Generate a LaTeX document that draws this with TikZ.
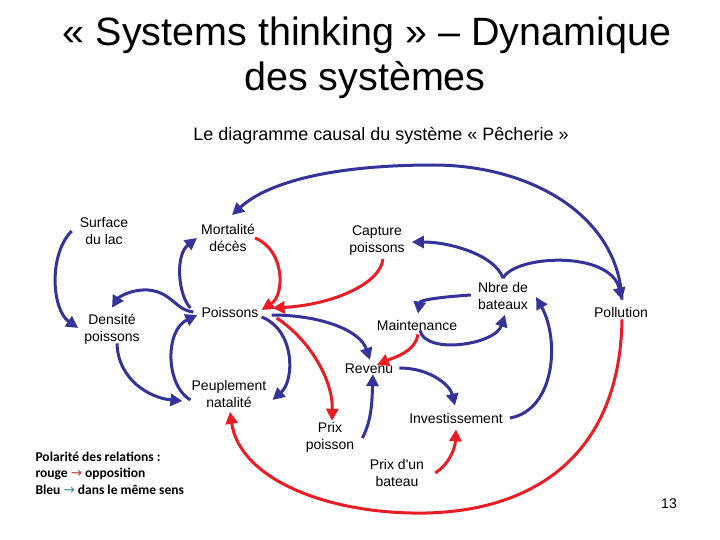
\documentclass[tikz,border=0pt]{standalone}
\usepackage{fontspec}
\setmainfont{Liberation Sans}
\newfontfamily\legendfont{Carlito}
\newfontfamily\arrowfont{DejaVu Sans}
\usepackage{xcolor}
\usetikzlibrary{arrows.meta, positioning, calc}

\definecolor{linkblue}{RGB}{51,51,153}
\definecolor{linkred}{RGB}{236,28,36}
\definecolor{legred}{RGB}{192,57,43}
\definecolor{legblue}{RGB}{49,133,156}

\tikzset{
  varnode/.style={align=center, inner sep=0pt, font=\fontsize{14}{17}\selectfont},
  plusarrow/.style={draw=linkblue, line width=3pt, -{Triangle[length=12pt,width=12pt]}},
  minusarrow/.style={draw=linkred, line width=3pt, -{Triangle[length=12pt,width=12pt]}}
}

\begin{document}
\begin{tikzpicture}[x=1pt, y=-1pt]
\useasboundingbox (0,0) rectangle (720,540);

% titre
\node[font=\fontsize{39.5}{45}\selectfont] (titre1) at (367,35) {« Systems thinking » – Dynamique};
\node[font=\fontsize{39.5}{45}\selectfont] (titre2) at (365,80) {des systèmes};
\node[font=\fontsize{18}{22}\selectfont] (soustitre) at (381,136) {Le diagramme causal du système « Pêcherie »};

% variables du systeme
\node[varnode] (surface) at (104,231) {Surface\\du lac};
\node[varnode] (mortalite) at (228,238) {Mortalité\\décès};
\node[varnode] (capture) at (377,241) {Capture\\poissons};
\node[varnode] (densite) at (112,329) {Densité\\poissons};
\node[varnode] (poissons) at (230,312) {Poissons};
\node[varnode] (maintenance) at (417,325) {Maintenance};
\node[varnode] (bateaux) at (503,296) {Nbre de\\bateaux};
\node[varnode] (pollution) at (621,312) {Pollution};
\node[varnode] (revenu) at (369,369) {Revenu};
\node[varnode] (peuplement) at (229,394) {Peuplement\\natalité};
\node[varnode] (prixpoisson) at (330,437) {Prix\\poisson};
\node[varnode] (invest) at (456,418) {Investissement};
\node[varnode] (prixbateau) at (397,473) {Prix d\textquotesingle un\\bateau};

% relations dans le meme sens
\draw[plusarrow] ($(surface.west)+(-8,0)$) .. controls (48,255) and (52,310) .. ($(densite.west)+(-6,-1)$);
\draw[plusarrow] ($(poissons.west)+(-8,0)$) .. controls (175,310) and (172,292) .. (148,290) .. controls (130,289) and (118,298) .. ($(densite.north)+(0,-6)$);
\draw[plusarrow] ($(poissons.west)+(-11,-4)$) .. controls (178,295) and (175,255) .. ($(mortalite.west)+(-4,0)$);
\draw[plusarrow] ($(pollution.north)+(1,-7)$) .. controls (618,215) and (530,165) .. (433,165) .. controls (340,165) and (270,180) .. ($(mortalite.north)+(4,-9)$);
\draw[plusarrow] ($(bateaux.north)+(0,-4)$) .. controls (495,255) and (450,242) .. ($(capture.east)+(7,1)$);
\draw[plusarrow] ($(bateaux.north)+(0,-4)$) .. controls (515,255) and (610,250) .. ($(pollution.north)+(1,-7)$);
\draw[plusarrow] ($(bateaux.west)+(-7,-1)$) .. controls (440,297) and (420,300) .. ($(maintenance.north)+(1,-6)$);
\draw[plusarrow] ($(maintenance.south)+(3,0)$) .. controls (425,355) and (495,345) .. ($(bateaux.south)+(2,5)$);
\draw[plusarrow] ($(poissons.east)+(13,3)$) .. controls (320,315) and (360,330) .. ($(revenu.north)+(1,-4)$);
\draw[plusarrow] ($(poissons.east)+(3,5)$) .. controls (295,330) and (295,380) .. ($(peuplement.east)+(6,6)$);
\draw[plusarrow] ($(peuplement.west)+(-1,6)$) .. controls (165,385) and (165,330) .. ($(poissons.west)+(-4,3)$);
\draw[plusarrow] ($(densite.south)+(5,-1)$) .. controls (118,380) and (150,398) .. ($(peuplement.west)+(-9,7)$);
\draw[plusarrow] ($(prixpoisson.east)+(8,1)$) .. controls (372,420) and (372,400) .. ($(revenu.south)+(4,0)$);
\draw[plusarrow] ($(revenu.east)+(6,-1)$) .. controls (430,368) and (450,385) .. ($(invest.north)+(-1,-7)$);
\draw[plusarrow] ($(invest.east)+(7,0)$) .. controls (555,410) and (560,340) .. ($(bateaux.east)+(8,1)$);

% relations en opposition
\draw[minusarrow] (mortalite.east) .. controls (285,250) and (285,295) .. ($(poissons.east)+(3,-2)$);
\draw[minusarrow] ($(capture.south)+(6,3)$) .. controls (380,285) and (330,305) .. ($(poissons.east)+(14,-4)$);
\draw[minusarrow] ($(maintenance.south)+(1,4)$) .. controls (415,352) and (395,357) .. ($(revenu.north)+(8,1)$);
\draw[minusarrow] ($(poissons.east)+(18,6)$) .. controls (310,340) and (333,380) .. ($(prixpoisson.north)+(2,-1)$);
\draw[minusarrow] ($(prixbateau.east)+(11,0)$) .. controls (448,465) and (455,450) .. ($(invest.south)+(0,6)$);
\draw[minusarrow] ($(pollution.south)+(1,2)$) .. controls (620,450) and (540,510) .. (427,513) .. controls (330,515) and (240,480) .. ($(peuplement.south)+(1,4)$);

% legende
\node[anchor=west, align=left, font=\legendfont\bfseries\fontsize{13.5}{16.5}\selectfont] (legende) at (32,473)
  {Polarité des relations :\\
   rouge {\mdseries\arrowfont\color{legred}→} opposition\\
   Bleu {\mdseries\arrowfont\color{legblue}→} dans le même sens};
\node[font=\fontsize{14}{17}\selectfont] (numero) at (669,504) {13};
\end{tikzpicture}
\end{document}
